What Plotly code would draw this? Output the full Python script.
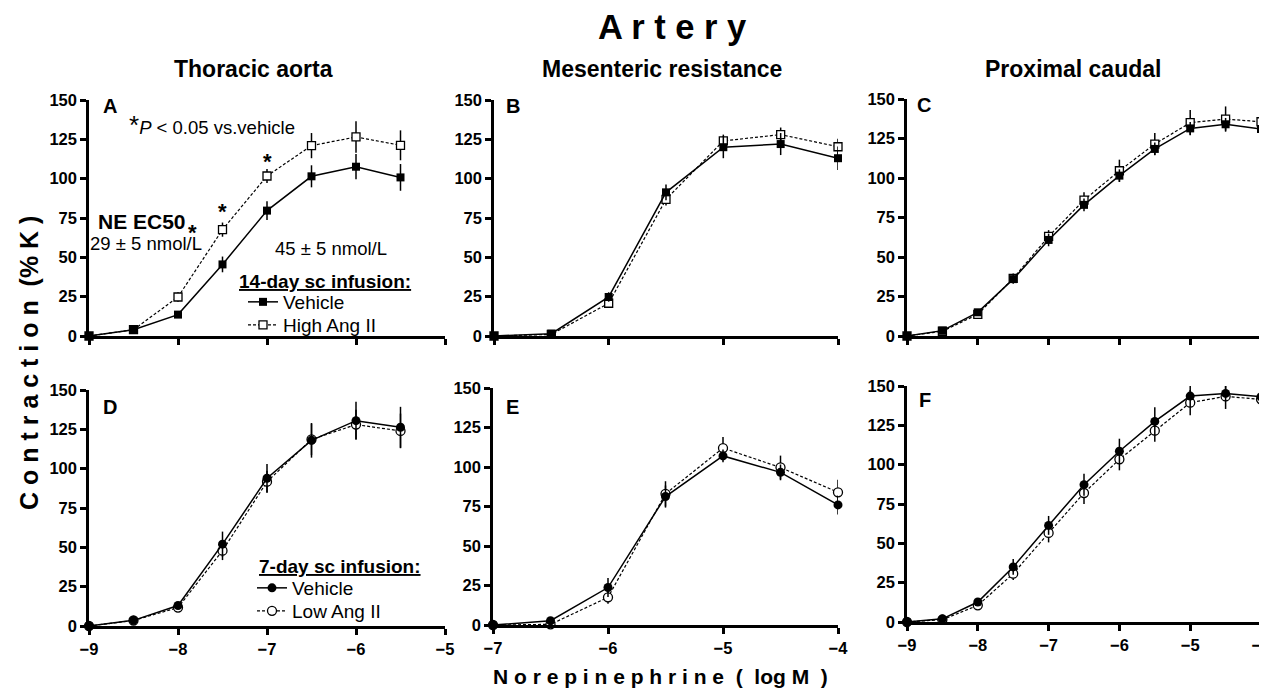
import plotly.graph_objects as go

FONT = "Liberation Sans, Arial, sans-serif"

# ---------------- data ----------------
x_A = [-9, -8.5, -8, -7.5, -7, -6.5, -6, -5.5]
A_veh = [0, 4, 13.6, 45.5, 79.7, 101.5, 107.6, 100.8]
A_veh_err = [0.5, 1, 1.5, 5, 6, 7, 8, 8.5]
A_ang = [0, 4, 24.8, 67.6, 101.7, 121, 126.5, 121.2]
A_ang_err = [0.5, 1, 3, 4.5, 4.5, 8, 10, 9.5]

x_B = [-7, -6.5, -6, -5.5, -5, -4.5, -4]
B_veh = [0, 1.5, 24.8, 91.3, 120, 122, 113]
B_veh_err = [0.5, 1, 3, 5, 7, 7, 7.5]
B_ang = [0, 1, 20.8, 86.9, 124, 128, 120.3]
B_ang_err = [0.5, 1, 3, 4, 4, 4.5, 5]

x_C = [-9, -8.5, -8, -7.5, -7, -6.5, -6, -5.5, -5, -4.5, -4]
C_veh = [0, 3.4, 15, 36, 60.8, 83, 101.5, 118.4, 131.4, 134, 131]
C_veh_err = [0.5, 1, 2, 3, 4, 4, 4, 4, 4, 4, 4]
C_ang = [0, 3, 13.7, 36.5, 63, 86, 104.6, 121.5, 135, 137.3, 135.6]
C_ang_err = [0.5, 1, 2, 3, 4, 5, 7, 7, 8, 8, 7]

x_D = [-9, -8.5, -8, -7.5, -7, -6.5, -6, -5.5]
D_veh = [0, 3.6, 13, 52, 93.9, 118, 130.5, 126.3]
D_veh_err = [0.5, 1, 1.5, 8, 9, 11, 12, 13]
D_ang = [0, 3.5, 11.7, 47.9, 91.7, 118.6, 128, 124]
D_ang_err = [0.5, 1, 1.5, 6, 7, 10, 9.5, 11]

x_E = [-7, -6.5, -6, -5.5, -5, -4.5, -4]
E_veh = [0, 2.7, 23.7, 81.3, 107, 96.6, 76]
E_veh_err = [0.5, 1, 6, 7, 4, 5, 6]
E_ang = [0, 0.4, 17.5, 83, 112, 99.7, 84]
E_ang_err = [0.5, 1, 4, 8, 7, 7.5, 8]

x_F = [-9, -8.5, -8, -7.5, -7, -6.5, -6, -5.5, -5, -4.5, -4]
F_veh = [0, 2, 12.7, 35, 61.4, 87.3, 108.5, 127.5, 143.6, 145.3, 143.2]
F_veh_err = [0.5, 1, 2, 5, 6, 7, 8, 9, 7, 5, 6]
F_ang = [0, 1.5, 10.6, 30.7, 56.6, 82, 103.4, 121.6, 139.4, 143.4, 141.5]
F_ang_err = [0.5, 1, 2, 4, 6, 7, 7, 7, 8, 8, 7]

y_ticks = [0, 25, 50, 75, 100, 125, 150]
col_titles = ["Thoracic aorta", "Mesenteric resistance", "Proximal caudal"]
panel_letters = ["A", "B", "C", "D", "E", "F"]

# ---------------- layout geometry ----------------
W, H = 1267, 691
OFF = 8  # page body margin of the html page
def X(px):
    return (px - OFF) / W
def Y(py):
    return 1 - (py - OFF) / H
def px_x(a, b):
    return [X(a), X(b)]
def px_y(top, bottom):
    return [Y(bottom), Y(top)]

panels = [
    (x_A, A_veh, A_veh_err, A_ang, A_ang_err, [-9, -5], px_x(89, 445), px_y(100, 336), "square", 0),
    (x_B, B_veh, B_veh_err, B_ang, B_ang_err, [-7, -4], px_x(494, 838), px_y(100, 336), "square", 0),
    (x_C, C_veh, C_veh_err, C_ang, C_ang_err, [-9, -4], px_x(907, 1261), px_y(99, 336), "square", 0),
    (x_D, D_veh, D_veh_err, D_ang, D_ang_err, [-9, -5], px_x(89, 445), px_y(390, 626), "circle", 1),
    (x_E, E_veh, E_veh_err, E_ang, E_ang_err, [-7, -4], px_x(493, 838), px_y(388, 625), "circle", 1),
    (x_F, F_veh, F_veh_err, F_ang, F_ang_err, [-9, -4], px_x(907, 1261), px_y(386, 622), "circle", 1),
]

# legend ids per panel: (vehicle legend, ang legend)
legend_ids = {0: ("legend", "legend3"), 3: ("legend2", "legend4")}

fig = go.Figure()
layout = dict(
    template="none",
    width=W, height=H,
    margin=dict(l=0, r=0, t=0, b=0, autoexpand=False),
    paper_bgcolor="white", plot_bgcolor="white",
    font=dict(family=FONT, color="black"),
    showlegend=True,
)

for i, (xs, veh, veh_e, ang, ang_e, xr, xd, yd, sym, row) in enumerate(panels):
    n = i + 1
    xa = "x" if n == 1 else f"x{n}"
    ya = "y" if n == 1 else f"y{n}"
    show = i in legend_ids
    leg_veh, leg_ang = legend_ids.get(i, ("legend", "legend"))
    ang_name = "High Ang II" if row == 0 else "Low Ang II"
    msize = 8 if sym == "square" else 9
    fig.add_trace(go.Scatter(
        x=xs, y=ang, xaxis=xa, yaxis=ya, name=ang_name, mode="lines+markers",
        line=dict(color="black", width=1.2, dash="3px,2px"),
        marker=dict(symbol=sym, size=msize, color="white", line=dict(color="black", width=1.3)),
        error_y=dict(type="data", array=ang_e, color="black", thickness=1.5, width=0),
        cliponaxis=False, showlegend=show, legend=leg_ang,
    ))
    fig.add_trace(go.Scatter(
        x=xs, y=veh, xaxis=xa, yaxis=ya, name="Vehicle", mode="lines+markers",
        line=dict(color="black", width=1.5),
        marker=dict(symbol=sym, size=msize, color="black"),
        error_y=dict(type="data", array=veh_e, color="black", thickness=1.5, width=0),
        cliponaxis=False, showlegend=show, legend=leg_veh,
    ))
    axkey_x = "xaxis" if n == 1 else f"xaxis{n}"
    axkey_y = "yaxis" if n == 1 else f"yaxis{n}"
    layout[axkey_x] = dict(
        domain=xd, range=xr, anchor=ya, dtick=1, tick0=-9,
        showline=True, linecolor="black", linewidth=2.5,
        ticks="outside", ticklen=6, tickwidth=2.5, tickcolor="black",
        showgrid=False, zeroline=False, automargin=False,
        showticklabels=(row == 1),
        tickfont=dict(family=FONT, size=16.5, color="black", weight="bold"),
        fixedrange=True,
    )
    layout[axkey_y] = dict(
        domain=yd, range=[0, 150], anchor=xa, tickvals=y_ticks,
        showline=True, linecolor="black", linewidth=2.5,
        ticks="outside", ticklen=6, tickwidth=2.5, tickcolor="black",
        showgrid=False, zeroline=False, automargin=False,
        tickfont=dict(family=FONT, size=16.5, color="black", weight="bold"),
        fixedrange=True,
    )

annotations = []
def ann(text, x, y, xref="paper", yref="paper", size=16, bold=False, **kw):
    d = dict(text=text, x=x, y=y, xref=xref, yref=yref, showarrow=False,
             xanchor="center", yanchor="middle",
             font=dict(family=FONT, size=size, color="black", weight="bold" if bold else "normal"))
    d.update(kw)
    annotations.append(d)

NB = "\u00a0"
# Titles
ann("A r t e r y", X(672), Y(27), size=34.5, bold=True)
for t, cx in zip(col_titles, [253, 662, 1073]):
    ann(t, X(cx), Y(69), size=23, bold=True)
ann("C o n t r a c t i o n" + NB * 2 + "(% K )", X(29), Y(363), size=25, bold=True, textangle=-90)
ann("N o r e p i n e p h r i n e" + NB * 2 + "(" + NB * 2 + "log M" + NB * 2 + ")", X(660), Y(676),
    size=21, bold=True)

# Panel letters
letter_pos = [(-8.76, 146), (-6.83, 146), (-8.76, 146), (-8.76, 139), (-6.83, 138), (-8.75, 141)]
for i, (L, (lx, ly)) in enumerate(zip(panel_letters, letter_pos)):
    n = i + 1
    ann(L, lx, ly, xref="x" if n == 1 else f"x{n}", yref="y" if n == 1 else f"y{n}", size=20, bold=True)

# Panel A extras
ann("<span style='font-size:26px'>*</span><i>P</i> &lt; 0.05 vs.vehicle", -8.57, 134, xref="x", yref="y",
    size=18.5, xanchor="left")
ann("NE EC50", -8.40, 72.5, xref="x", yref="y", size=21, bold=True)
ann("29 ± 5 nmol/L", -8.36, 58.5, xref="x", yref="y", size=18.5)
ann("45 ± 5 nmol/L", -6.28, 55.5, xref="x", yref="y", size=18.5)
for sx, sy in [(-7.84, 66), (-7.5, 79), (-7, 111)]:
    ann("*", sx, sy, xref="x", yref="y", size=22, bold=True)

# legend headings
ann("<u>14-day sc infusion:</u>", X(237), Y(282), size=19, bold=True, xanchor="left")
ann("<u>7-day sc infusion:</u>", X(257), Y(566), size=19, bold=True, xanchor="left")

layout["annotations"] = annotations
def leg(xpx, ypx):
    return dict(
        x=X(xpx), y=Y(ypx), xanchor="left", yanchor="top",
        font=dict(family=FONT, size=19, color="black"), bgcolor="rgba(0,0,0,0)",
        tracegroupgap=0, itemwidth=30, borderwidth=0,
    )
layout["legend"] = leg(243, 283)
layout["legend3"] = leg(243, 306)
layout["legend2"] = leg(252, 569)
layout["legend4"] = leg(252, 592)

fig.update_layout(**layout)
fig.write_html("out.html")
